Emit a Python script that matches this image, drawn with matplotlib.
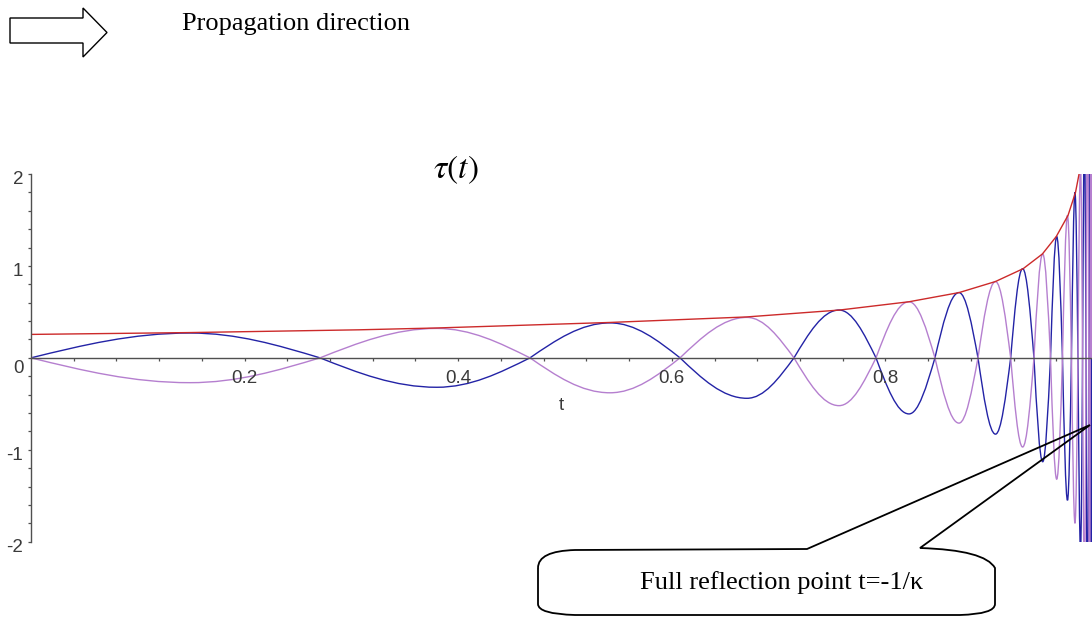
import matplotlib
matplotlib.use("Agg")
import matplotlib.pyplot as plt
from matplotlib.path import Path
from matplotlib.patches import PathPatch, Polygon
from matplotlib.transforms import ScaledTranslation

#values
#zero crossings shared by both oscillating curves
zeroT = [0.0, 0.2706, 0.4672, 0.6077, 0.7144, 0.7912, 0.8464, 0.8867, 0.9173,
         0.9391, 0.9546, 0.9658, 0.9742, 0.9803, 0.9846, 0.9878, 0.9904, 0.9918, 0.9931]
#extrema of the blue curve (violet is the mirror image)
peakT = [0.1489, 0.3801, 0.5421, 0.6704, 0.7566, 0.8221, 0.8689, 0.9031, 0.9285,
         0.9473, 0.9604, 0.9705, 0.9775, 0.9827, 0.9864, 0.9892, 0.9911, 0.9925]
peakAmp = [0.27, 0.32, 0.38, 0.44, 0.52, 0.61, 0.71, 0.83, 0.97,
           1.13, 1.32, 1.55, 1.80, 2.10, 2.50, 2.90, 3.40, 3.90]
#red envelope
envT = [0.0, 0.149, 0.307, 0.380, 0.542, 0.670, 0.757, 0.822, 0.869, 0.903,
        0.929, 0.947, 0.960, 0.971, 0.978, 0.983]
envVal = [0.255, 0.275, 0.305, 0.325, 0.385, 0.445, 0.52, 0.61, 0.71, 0.83,
          0.97, 1.13, 1.32, 1.55, 1.80, 2.10]

xMajor = [0.2, 0.4, 0.6, 0.8]
yMajor = [-2, -1, 0, 1, 2]

W, H = 1092, 618

def px(x, y):
    #pixel position -> figure fraction
    return (x / W, 1 - y / H)

def lobePath(zeros, tops, amps, firstSign):
    #each half wave = two quarter sine bezier pieces between zero and extremum
    verts = [(zeros[0], 0)]
    codes = [Path.MOVETO]
    sign = firstSign
    for k in range(len(tops)):
        z0, z1, e = zeros[k], zeros[k + 1], tops[k]
        a = sign * amps[k]
        d1 = e - z0
        d2 = z1 - e
        verts += [(z0 + 0.326 * d1, 0.512 * a), (z0 + 0.638 * d1, a), (e, a),
                  (e + 0.362 * d2, a), (e + 0.674 * d2, 0.512 * a), (z1, 0)]
        codes += [Path.CURVE4] * 6
        sign = -sign
    return Path(verts, codes)

fig = plt.figure(figsize=(W / 100, H / 100), dpi=100)
ax = fig.add_axes([31 / W, (H - 541.7) / H, 1061 / W, 367.7 / H])
ax.set_xlim(0, 1061 / 1068)
ax.set_ylim(-2, 2)

blue = "#2323a6"
violet = "#b57fcf"
red = "#cc2a2a"

ax.add_patch(PathPatch(lobePath(zeroT, peakT, peakAmp, 1), fill=False,
                       edgecolor=blue, lw=1.0))
ax.add_patch(PathPatch(lobePath(zeroT, peakT, peakAmp, -1), fill=False,
                       edgecolor=violet, lw=1.0))
ax.plot(envT, envVal, color=red, lw=1.0)

#maple style axes through the origin
for s in ["top", "right"]:
    ax.spines[s].set_visible(False)
ax.spines["bottom"].set_position(("data", 0))
for s in ["left", "bottom"]:
    ax.spines[s].set_color("#505050")
    ax.spines[s].set_linewidth(1.0)

ax.set_xticks(xMajor)
ax.set_xticklabels([str(v) for v in xMajor])
ax.set_xticks([i * 0.04 for i in range(1, 25)], minor=True)
ax.set_yticks(yMajor)
ax.set_yticklabels([str(v) for v in yMajor])
ax.set_yticks([i * 0.2 - 2 for i in range(21)], minor=True)
ax.tick_params(which="both", direction="out", length=2.5, width=0.9, color="#505050",
               labelsize=13.5, labelcolor="#3a3a3a")
ax.tick_params(axis="x", pad=6)
ax.tick_params(axis="y", pad=3)
for lab in ax.get_xticklabels() + ax.get_yticklabels():
    lab.set_family("Liberation Sans")
for lab, v in zip(ax.get_yticklabels(), yMajor):
    shift = -9 if v == 0 else -4
    lab.set_transform(lab.get_transform() + ScaledTranslation(0, shift / 100, fig.dpi_scale_trans))

ax.text(0.497, -0.52, "t", ha="center", va="center", fontsize=13.5,
        color="#3a3a3a", family="Liberation Sans")

fig.text(*px(456, 170), r"$\tau(t)$", math_fontfamily="stix", fontsize=24,
         ha="center", va="center")

#propagation arrow and caption
arrowPts = [px(10, 18), px(83, 18), px(83, 8), px(107, 32.5), px(83, 57), px(83, 43), px(10, 43)]
fig.patches.append(Polygon(arrowPts, closed=True, fill=False, edgecolor="black",
                           lw=1.0, transform=fig.transFigure))
fig.text(*px(182, 24), "Propagation direction", family="Liberation Serif",
         fontsize=19, ha="left", va="center")

#callout bubble
cv = [(538, 568), (538, 551), (575, 550), (807, 549), (1090, 425),
      (920, 548), (985, 550), (995, 568), (995, 604), (995, 614), (960, 615),
      (575, 615), (538, 614), (538, 604), (538, 568)]
cc = [Path.MOVETO, Path.CURVE3, Path.CURVE3, Path.LINETO, Path.LINETO,
      Path.LINETO, Path.CURVE3, Path.CURVE3, Path.LINETO, Path.CURVE3, Path.CURVE3,
      Path.LINETO, Path.CURVE3, Path.CURVE3, Path.LINETO]
calloutPath = Path([px(x, y) for x, y in cv], cc)
fig.patches.append(PathPatch(calloutPath, fill=False, edgecolor="black", lw=1.3,
                             transform=fig.transFigure))
fig.text(*px(782, 589), "Full reflection point t=-1/\u03ba", family="Liberation Serif",
         fontsize=19, ha="center", va="baseline")

fig.savefig("out.png", dpi=100)
